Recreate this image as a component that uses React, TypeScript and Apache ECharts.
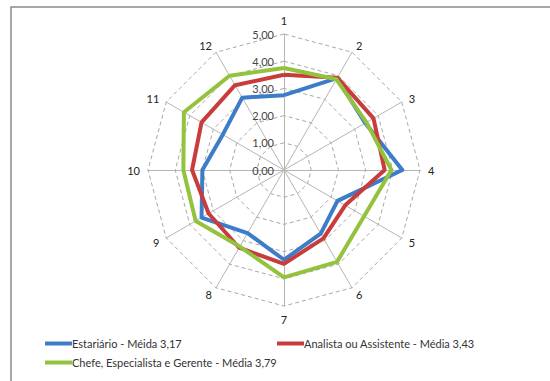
import { useEffect, useRef } from "react";
import * as echarts from "echarts";

// Questions 1..12, read clockwise from the top
const questions = ["1", "2", "3", "4", "5", "6", "7", "8", "9", "10", "11", "12"];
const scaleMax = 5;
const scaleStep = 1;

const seriesNames = [
  "Estariário - Méida 3,17",
  "Analista ou Assistente - Média 3,43",
  "Chefe, Especialista e Gerente - Média 3,79",
];
const estagiario = [2.75, 3.9, 3.45, 4.35, 2.27, 2.7, 3.3, 2.68, 3.5, 3.0, 2.6, 3.07];
const analista = [3.5, 3.92, 3.8, 3.7, 2.6, 2.9, 3.45, 3.3, 3.2, 3.38, 3.5, 3.6];
const chefe = [3.75, 3.85, 3.5, 3.95, 3.4, 3.9, 3.95, 3.25, 3.75, 3.7, 4.25, 4.0];
const colors = ["#3d7cc9", "#c93c3c", "#93c23f"];

const FONT = "Lato, 'Open Sans', sans-serif";
const CX = 284;
const CY = 170;
const R = 136;

export default function App() {
  const ref = useRef<HTMLDivElement>(null);

  useEffect(() => {
    if (!ref.current) return;
    const chart = echarts.init(ref.current, undefined, { renderer: "svg" });

    // ECharts lays radar indicators out counter-clockwise; reorder so they run clockwise
    const order = [0, ...questions.map((_, i) => questions.length - 1 - i).slice(0, questions.length - 1)];
    const reorder = (arr: number[]) => order.map((i) => arr[i]);
    const allSeries = [estagiario, analista, chefe];

    const legendPos = [
      { left: 40, top: 333 },
      { left: 272, top: 333 },
      { left: 40, top: 352 },
    ];

    chart.setOption({
      animation: false,
      backgroundColor: "#ffffff",
      color: colors,
      graphic: [
        {
          type: "rect",
          shape: { x: 11, y: 7, width: 600, height: 420 },
          style: { fill: "none", stroke: "#8a8a8a", lineWidth: 1.5 },
          silent: true,
        },
      ],
      legend: seriesNames.map((name, i) => ({
        data: [name],
        left: legendPos[i].left,
        top: legendPos[i].top,
        itemWidth: 27,
        itemHeight: 4,
        itemGap: 0,
        icon: "rect",
        selectedMode: false,
        textStyle: { fontFamily: FONT, fontSize: 11, color: "#333", padding: [0, 0, 0, -5] },
      })),
      radar: {
        center: [CX, CY],
        radius: R,
        startAngle: 90,
        shape: "polygon",
        splitNumber: scaleMax / scaleStep,
        indicator: order.map((i) => ({ name: questions[i], min: 0, max: scaleMax })),
        axisName: { color: "#222", fontFamily: FONT, fontSize: 11 },
        nameGap: 8,
        axisLine: { lineStyle: { color: "#b5b5b5", width: 1 } },
        axisTick: { show: false },
        axisLabel: { show: false },
        splitLine: { lineStyle: { color: "#a8a8a8", type: [4, 3], width: 1 } },
        splitArea: { show: false },
      },
      polar: { center: [CX, CY], radius: R },
      angleAxis: { show: false, startAngle: 90, min: 0, max: 360 },
      radiusAxis: {
        min: 0,
        max: scaleMax,
        interval: scaleStep,
        axisLine: { show: false },
        axisTick: { show: false },
        splitLine: { show: false },
        axisLabel: {
          fontFamily: FONT,
          fontSize: 11,
          color: "#444",
          margin: 10,
          formatter: (v: number) => v.toFixed(2).replace(".", ","),
        },
      },
      series: [
        {
          type: "radar",
          symbol: "none",
          data: allSeries.map((arr, i) => ({
            name: seriesNames[i],
            value: reorder(arr),
            lineStyle: { color: colors[i], width: 4 },
            itemStyle: { color: colors[i] },
          })),
        },
      ],
    });

    return () => chart.dispose();
  }, []);

  return (
    <div
      ref={ref}
      style={{ position: "fixed", left: 0, top: 0, width: 550, height: 381 }}
    />
  );
}
